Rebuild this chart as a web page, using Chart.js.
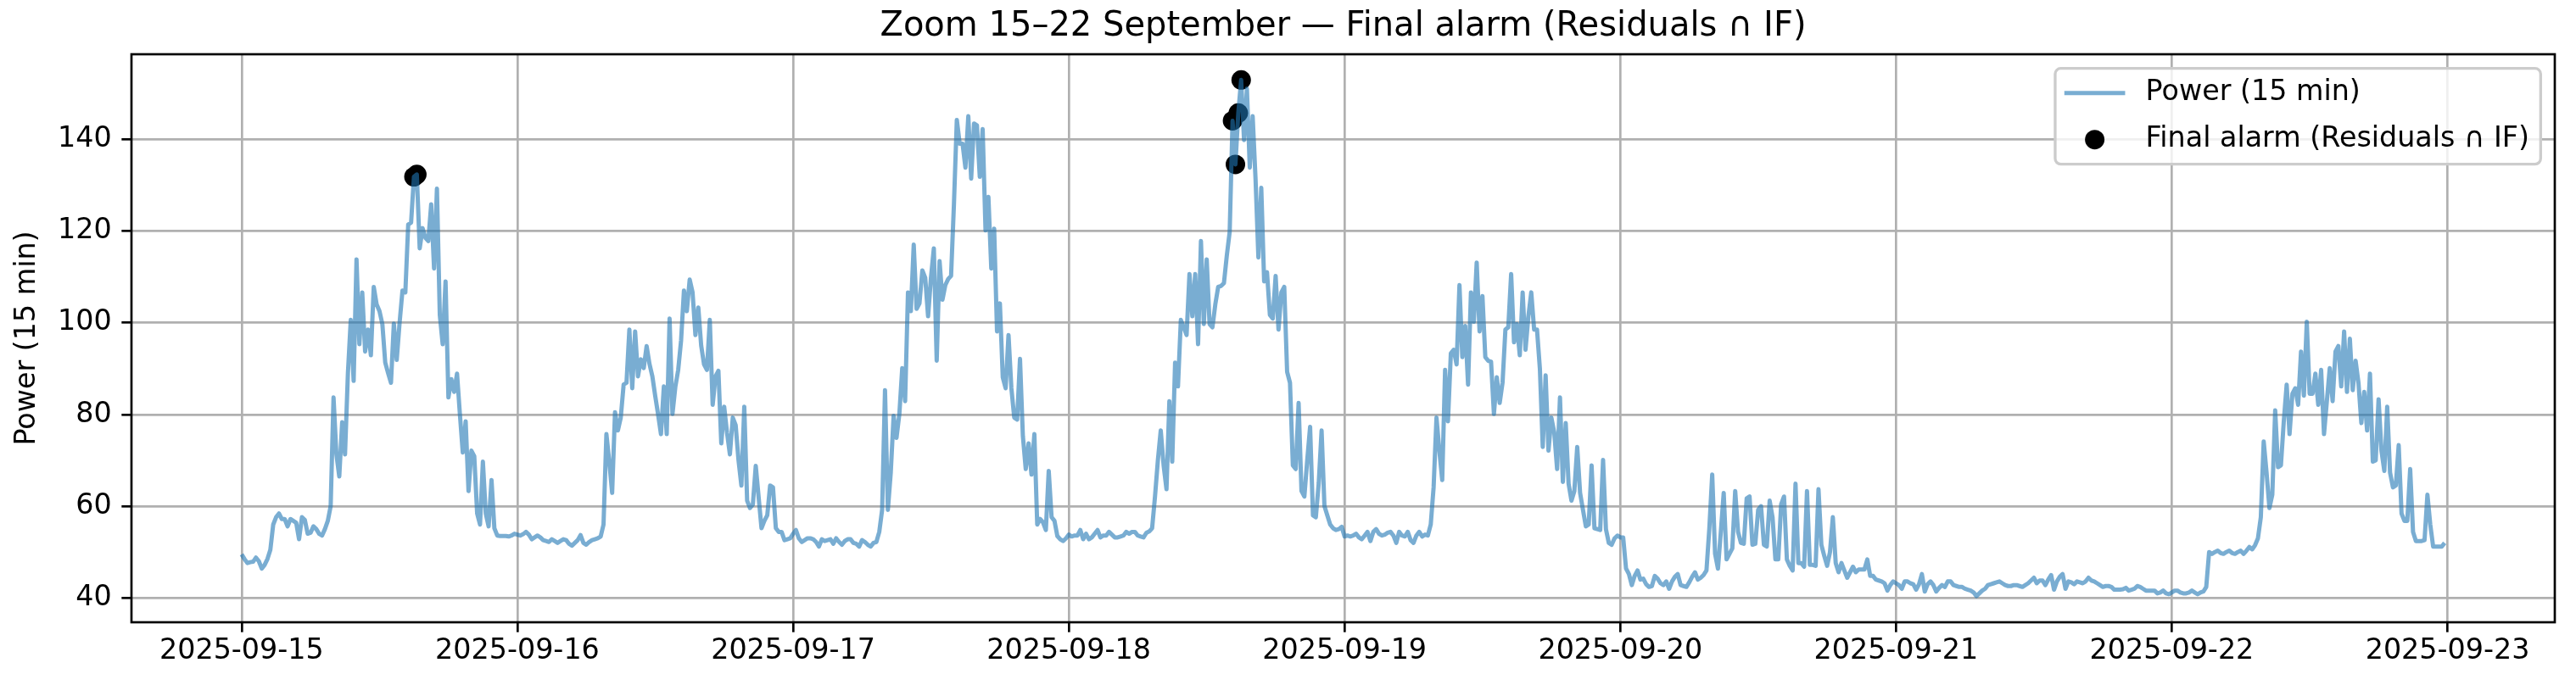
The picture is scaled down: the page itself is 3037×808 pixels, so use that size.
<!DOCTYPE html>
<html>
<head>
<meta charset="utf-8">
<script src="https://cdn.jsdelivr.net/npm/chart.js@4.4.1/dist/chart.umd.min.js"></script>
<style>
  html, body { margin: 0; padding: 0; background: #fff; }
  canvas { display: block; }
</style>
</head>
<body>
<canvas id="chart1" width="3037" height="808"></canvas>
<script>
// 15 min power readings, one array per day (96 values each, starting 00:00)
const startDay = '2025-09-15';
const day15 = [
  49.5, 48.5, 47.6, 47.8, 47.9, 48.8, 48.0, 46.4, 47.2, 48.5,
  50.5, 56.0, 57.6, 58.4, 57.2, 57.2, 55.6, 57.2, 56.8, 56.4,
  52.8, 57.6, 57.0, 54.0, 54.2, 55.6, 55.0, 54.0, 53.6, 55.0,
  56.8, 60.0, 83.7, 71.3, 66.5, 78.3, 71.3, 88.9, 100.6, 87.3,
  113.8, 95.3, 106.6, 93.7, 98.5, 92.9, 107.8, 104.0, 102.5, 99.7,
  91.3, 89.0, 86.9, 99.8, 91.9, 100.0, 107.0, 106.6, 121.4, 121.8,
  131.8, 132.3, 116.2, 120.6, 118.5, 117.8, 125.8, 111.8, 129.2, 101.7,
  95.3, 109.0, 83.7, 87.7, 84.9, 88.9, 80.0, 71.7, 78.5, 63.3,
  72.1, 70.9, 58.4, 56.0, 69.7, 58.4, 55.6, 65.7, 55.2, 53.6,
  53.5, 53.5, 53.5, 53.4, 53.6, 54.0
];
const day16 = [
  53.8, 53.6, 53.9, 54.4, 53.8, 52.8, 53.2, 53.6, 53.2, 52.6,
  52.4, 52.2, 52.8, 52.4, 52.0, 52.4, 52.8, 52.6, 51.8, 51.4,
  52.0, 52.6, 53.7, 52.0, 51.6, 52.2, 52.6, 52.8, 53.0, 53.4,
  56.0, 75.7, 69.7, 62.9, 80.5, 76.5, 79.3, 86.5, 86.9, 98.5,
  85.7, 98.1, 88.3, 92.0, 90.1, 94.9, 91.0, 88.3, 84.0, 80.0,
  75.7, 86.1, 75.7, 100.9, 80.1, 86.0, 89.7, 96.1, 107.0, 102.5,
  109.4, 106.6, 97.3, 103.3, 95.0, 90.9, 89.7, 100.6, 82.1, 88.3,
  89.5, 73.7, 81.7, 76.0, 71.3, 79.3, 77.7, 70.0, 64.5, 81.7,
  61.2, 59.6, 60.4, 68.8, 62.0, 55.2, 56.8, 58.0, 64.5, 64.1,
  55.2, 54.4, 54.4, 52.6, 52.8, 53.0
];
const day17 = [
  54.0, 54.8, 53.0, 52.2, 52.6, 53.0, 53.0, 52.8, 52.2, 51.2,
  52.8, 52.4, 52.6, 52.8, 51.8, 53.0, 52.2, 51.6, 52.4, 52.8,
  52.8, 52.0, 51.8, 51.2, 52.6, 52.2, 51.6, 51.2, 52.0, 52.2,
  54.4, 59.2, 85.3, 59.2, 67.3, 79.7, 74.9, 80.1, 90.1, 82.9,
  106.6, 102.5, 117.0, 103.0, 104.2, 111.4, 109.8, 101.4, 109.8, 116.2,
  91.7, 113.4, 105.0, 108.2, 109.5, 110.2, 125.8, 144.2, 139.0, 139.0,
  133.8, 145.0, 131.4, 143.4, 143.0, 131.8, 142.2, 120.1, 127.4, 111.8,
  120.5, 98.1, 104.2, 88.1, 85.7, 97.3, 85.7, 79.3, 78.9, 92.1,
  75.3, 68.1, 73.7, 66.9, 75.7, 56.0, 57.2, 56.5, 54.8, 67.7,
  57.6, 56.8, 53.5, 52.8, 52.4, 53.0
];
const day18 = [
  53.8, 53.4, 53.6, 53.6, 54.8, 52.8, 54.0, 52.8, 53.2, 54.0,
  54.8, 53.2, 53.6, 53.6, 54.4, 53.8, 53.2, 53.2, 53.4, 53.6,
  54.4, 54.0, 54.4, 54.4, 53.6, 53.4, 53.2, 54.2, 54.5, 55.2,
  62.1, 70.0, 76.5, 68.9, 63.7, 82.9, 69.7, 91.3, 86.1, 100.6,
  99.0, 97.3, 110.6, 101.4, 110.6, 95.3, 117.8, 99.7, 113.8, 99.7,
  99.0, 104.0, 107.8, 108.0, 108.6, 114.6, 119.8, 144.0, 134.5, 145.7,
  152.9, 139.8, 151.0, 133.8, 145.0, 131.4, 114.2, 129.4, 109.0, 111.0,
  101.7, 100.9, 110.2, 98.5, 106.6, 107.8, 89.3, 86.9, 68.9, 68.1,
  82.5, 63.3, 62.1, 70.0, 77.3, 58.0, 57.6, 65.0, 76.5, 60.0,
  58.0, 56.0, 55.2, 54.8, 55.0, 55.5
];
const day19 = [
  53.4, 53.6, 53.4, 53.6, 54.0, 53.2, 52.8, 53.6, 54.4, 52.4,
  54.4, 55.0, 54.0, 53.6, 53.8, 54.2, 54.4, 53.6, 52.0, 54.4,
  53.6, 53.4, 54.4, 52.6, 52.0, 53.6, 54.4, 53.4, 53.8, 53.6,
  56.0, 64.1, 79.3, 72.1, 65.7, 89.7, 78.5, 93.3, 94.1, 90.9,
  108.2, 92.5, 99.3, 86.5, 106.6, 100.2, 113.1, 98.1, 105.8, 92.5,
  91.7, 91.5, 80.1, 88.1, 82.5, 86.9, 98.5, 99.0, 110.6, 95.7,
  99.7, 92.9, 106.6, 94.1, 101.4, 106.6, 98.5, 98.5, 90.0, 72.9,
  88.5, 72.1, 79.3, 76.1, 68.1, 83.7, 65.3, 78.1, 64.9, 61.2,
  63.3, 72.9, 62.9, 59.2, 55.6, 56.0, 68.9, 55.2, 55.0, 54.8,
  70.1, 55.0, 52.0, 51.6, 53.0, 53.6
];
const day20 = [
  53.2, 53.2, 46.4, 45.2, 42.8, 44.8, 46.0, 44.0, 44.2, 43.0,
  42.4, 42.6, 44.8, 44.2, 43.2, 42.8, 43.6, 42.0, 43.6, 44.6,
  45.2, 42.8, 42.6, 42.4, 43.4, 44.6, 45.6, 44.0, 44.4, 45.0,
  46.0, 55.2, 66.9, 49.6, 46.4, 54.4, 62.9, 48.4, 49.6, 50.8,
  63.3, 54.4, 52.0, 51.8, 61.7, 62.1, 51.6, 51.8, 59.2, 60.0,
  51.6, 51.2, 61.2, 57.6, 48.4, 48.4, 60.4, 62.1, 48.4, 47.0,
  46.0, 64.9, 47.6, 47.6, 46.8, 63.3, 47.2, 47.2, 47.0, 63.7,
  51.6, 49.2, 47.0, 50.0, 57.6, 47.6, 45.6, 47.6, 46.0, 44.4,
  45.6, 46.8, 45.6, 46.2, 46.2, 46.2, 48.4, 44.8, 44.8, 44.0,
  43.8, 43.6, 43.2, 41.6, 42.8, 43.6
];
const day21 = [
  43.2, 42.8, 42.0, 43.6, 43.6, 43.2, 43.0, 41.8, 43.0, 45.2,
  41.4, 43.0, 43.6, 42.8, 41.4, 42.2, 42.8, 42.4, 43.6, 43.6,
  42.8, 42.6, 42.4, 42.4, 42.0, 41.8, 41.6, 41.2, 40.4, 41.0,
  41.6, 42.0, 42.8, 43.0, 43.2, 43.4, 43.6, 43.2, 42.8, 42.6,
  42.6, 42.8, 42.8, 42.6, 42.4, 42.8, 43.2, 43.8, 44.4, 43.2,
  43.8, 43.8, 42.8, 44.0, 45.0, 41.8, 43.6, 44.6, 45.2, 42.0,
  43.6, 43.4, 43.0, 43.6, 43.4, 43.2, 43.6, 44.4, 43.8, 43.6,
  43.2, 42.8, 42.4, 42.6, 42.6, 42.4, 41.8, 41.8, 41.8, 41.9,
  42.2, 41.6, 41.8, 42.0, 42.6, 42.4, 42.0, 41.6, 41.6, 41.6,
  41.6, 41.0, 41.2, 41.6, 41.0, 40.8
];
const day22 = [
  41.2, 41.6, 41.6, 41.2, 41.0, 41.0, 41.2, 41.6, 41.2, 40.8,
  41.2, 41.4, 42.4, 50.0, 49.6, 50.0, 50.3, 49.8, 49.6, 50.0,
  50.3, 49.8, 49.6, 50.0, 50.3, 49.6, 50.3, 51.1, 50.6, 51.5,
  53.0, 57.6, 74.1, 67.3, 59.6, 62.5, 80.9, 68.5, 68.9, 78.5,
  86.5, 75.7, 84.5, 85.7, 82.1, 93.7, 84.1, 100.2, 84.5, 84.5,
  88.9, 82.1, 89.7, 75.7, 82.9, 90.1, 82.9, 93.7, 94.9, 86.1,
  98.1, 84.9, 96.5, 85.3, 91.7, 86.9, 78.1, 84.9, 76.5, 88.9,
  69.7, 70.0, 83.3, 72.1, 67.7, 81.7, 67.3, 64.1, 64.5, 73.3,
  58.4, 56.8, 56.8, 68.1, 54.4, 52.4, 52.4, 52.4, 52.6, 62.5,
  56.0, 51.2, 51.2, 51.2, 51.2, 52.0
];
const powerDays = [day15, day16, day17, day18, day19, day20, day21, day22];

// final alarms (Residuals ∩ IF)
const alarmTimes = ['2025-09-15 15:00', '2025-09-15 15:15', '2025-09-18 14:15',
                    '2025-09-18 14:30', '2025-09-18 14:45', '2025-09-18 15:00'];
const alarmValues = [131.8, 132.3, 144.0, 134.5, 145.7, 152.9];

const dateTicks = ['2025-09-15', '2025-09-16', '2025-09-17', '2025-09-18',
                   '2025-09-19', '2025-09-20', '2025-09-21', '2025-09-22', '2025-09-23'];
const yTicks = [40, 60, 80, 100, 120, 140];

// hours since start of 2025-09-15
function toHours(s) {
  const [d, t] = s.split(' ');
  const p = d.split('-').map(Number);
  const q = (t || '00:00').split(':').map(Number);
  const base = startDay.split('-').map(Number);
  return (Date.UTC(p[0], p[1] - 1, p[2], q[0], q[1]) - Date.UTC(base[0], base[1] - 1, base[2])) / 3600000;
}

let powerPoints = [];
powerDays.forEach(function(vals, d) {
  vals.forEach(function(v, k) {
    powerPoints.push({x: d * 24 + k * 0.25, y: v});
  });
});
const alarmPoints = alarmTimes.map((t, i) => ({x: toHours(t), y: alarmValues[i]}));
const xTickVals = dateTicks.map(toHours);

const FONT = 'DejaVu Sans';
const PT = 10 / 3;   // px per point

const frameAndLegend = {
  id: 'frameAndLegend',
  afterDatasetsDraw(chart) {
    const {ctx, chartArea: a} = chart;
    ctx.save();
    ctx.strokeStyle = '#000';
    ctx.lineWidth = 0.8 * PT;
    ctx.strokeRect(a.left, a.top, a.right - a.left, a.bottom - a.top);
    ctx.restore();
  },
  afterDraw(chart) {
    const {ctx, chartArea: a} = chart;
    const fs = 10 * PT;
    const labels = ['Power (15 min)', 'Final alarm (Residuals ∩ IF)'];
    ctx.save();
    ctx.font = fs + 'px "' + FONT + '"';
    const tw = Math.max(...labels.map(l => ctx.measureText(l).width));
    const w = 0.4 * fs * 2 + 2 * fs + 0.8 * fs + tw;
    const h = 113;
    const right = a.right - 0.5 * fs;
    const top = a.top + 0.5 * fs;
    const left = right - w;
    const r = 0.2 * fs;
    ctx.beginPath();
    ctx.roundRect(left, top, w, h, r);
    ctx.fillStyle = 'rgba(255,255,255,0.8)';
    ctx.fill();
    ctx.strokeStyle = '#cccccc';
    ctx.lineWidth = 1 * PT;
    ctx.stroke();

    const hx = left + 0.4 * fs;
    const tx = hx + 2 * fs + 0.8 * fs;
    const rows = [top + 29, top + 84];
    // line handle
    ctx.beginPath();
    ctx.moveTo(hx, rows[0]);
    ctx.lineTo(hx + 2 * fs, rows[0]);
    ctx.strokeStyle = 'rgba(31,119,180,0.6)';
    ctx.lineWidth = 1.5 * PT;
    ctx.lineCap = 'square';
    ctx.stroke();
    // dot handle
    ctx.beginPath();
    ctx.arc(hx + fs, rows[1], 11.5, 0, Math.PI * 2);
    ctx.fillStyle = '#000';
    ctx.fill();

    ctx.fillStyle = '#000';
    ctx.textBaseline = 'middle';
    ctx.textAlign = 'left';
    labels.forEach((l, i) => ctx.fillText(l, tx, rows[i]));
    ctx.restore();
  }
};

new Chart(document.getElementById('chart1'), {
  type: 'line',
  data: {
    datasets: [{
      label: 'Power (15 min)',
      data: powerPoints,
      borderColor: 'rgba(31,119,180,0.6)',
      borderWidth: 1.5 * PT,
      borderJoinStyle: 'round',
      pointRadius: 0,
      tension: 0,
      fill: false,
      order: 0
    }, {
      type: 'scatter',
      label: 'Final alarm (Residuals ∩ IF)',
      data: alarmPoints,
      backgroundColor: '#000',
      borderWidth: 0,
      pointRadius: 11.5,
      showLine: false,
      order: 1
    }]
  },
  options: {
    responsive: false,
    animation: false,
    devicePixelRatio: 1,
    layout: { padding: { left: 0, right: 25, top: 0, bottom: 0 } },
    plugins: {
      legend: { display: false },
      tooltip: { enabled: false },
      title: {
        display: true,
        fullSize: false,
        text: 'Zoom 15–22 September — Final alarm (Residuals ∩ IF)',
        color: '#000',
        font: { family: FONT, size: 12 * PT, weight: 'normal', lineHeight: 1.2 },
        padding: { top: 8, bottom: 8 }
      }
    },
    scales: {
      x: {
        type: 'linear',
        min: -9.5875,
        max: 201.3375,
        afterBuildTicks: s => { s.ticks = xTickVals.map(v => ({value: v})); },
        afterFit: s => { s.height = 74; },
        border: { display: false },
        grid: {
          color: '#b0b0b0',
          lineWidth: 0.8 * PT,
          tickColor: '#000',
          tickWidth: 0.8 * PT,
          tickLength: 3.5 * PT
        },
        ticks: {
          autoSkip: false,
          maxRotation: 0,
          color: '#000',
          padding: 6,
          font: { family: FONT, size: 10 * PT, lineHeight: 1 },
          callback: (v, i) => dateTicks[i]
        }
      },
      y: {
        min: 34.7,
        max: 158.5,
        afterBuildTicks: s => { s.ticks = yTicks.map(v => ({value: v})); },
        afterFit: s => { s.width = 155; },
        border: { display: false },
        grid: {
          color: '#b0b0b0',
          lineWidth: 0.8 * PT,
          tickColor: '#000',
          tickWidth: 0.8 * PT,
          tickLength: 3.5 * PT
        },
        ticks: {
          color: '#000',
          padding: 3.5 * PT,
          font: { family: FONT, size: 10 * PT, lineHeight: 1 }
        },
        title: {
          display: true,
          text: 'Power (15 min)',
          color: '#000',
          font: { family: FONT, size: 10 * PT, lineHeight: 1.2 },
          padding: { top: 12, bottom: 0 }
        }
      }
    }
  },
  plugins: [frameAndLegend]
});
</script>
</body>
</html>
